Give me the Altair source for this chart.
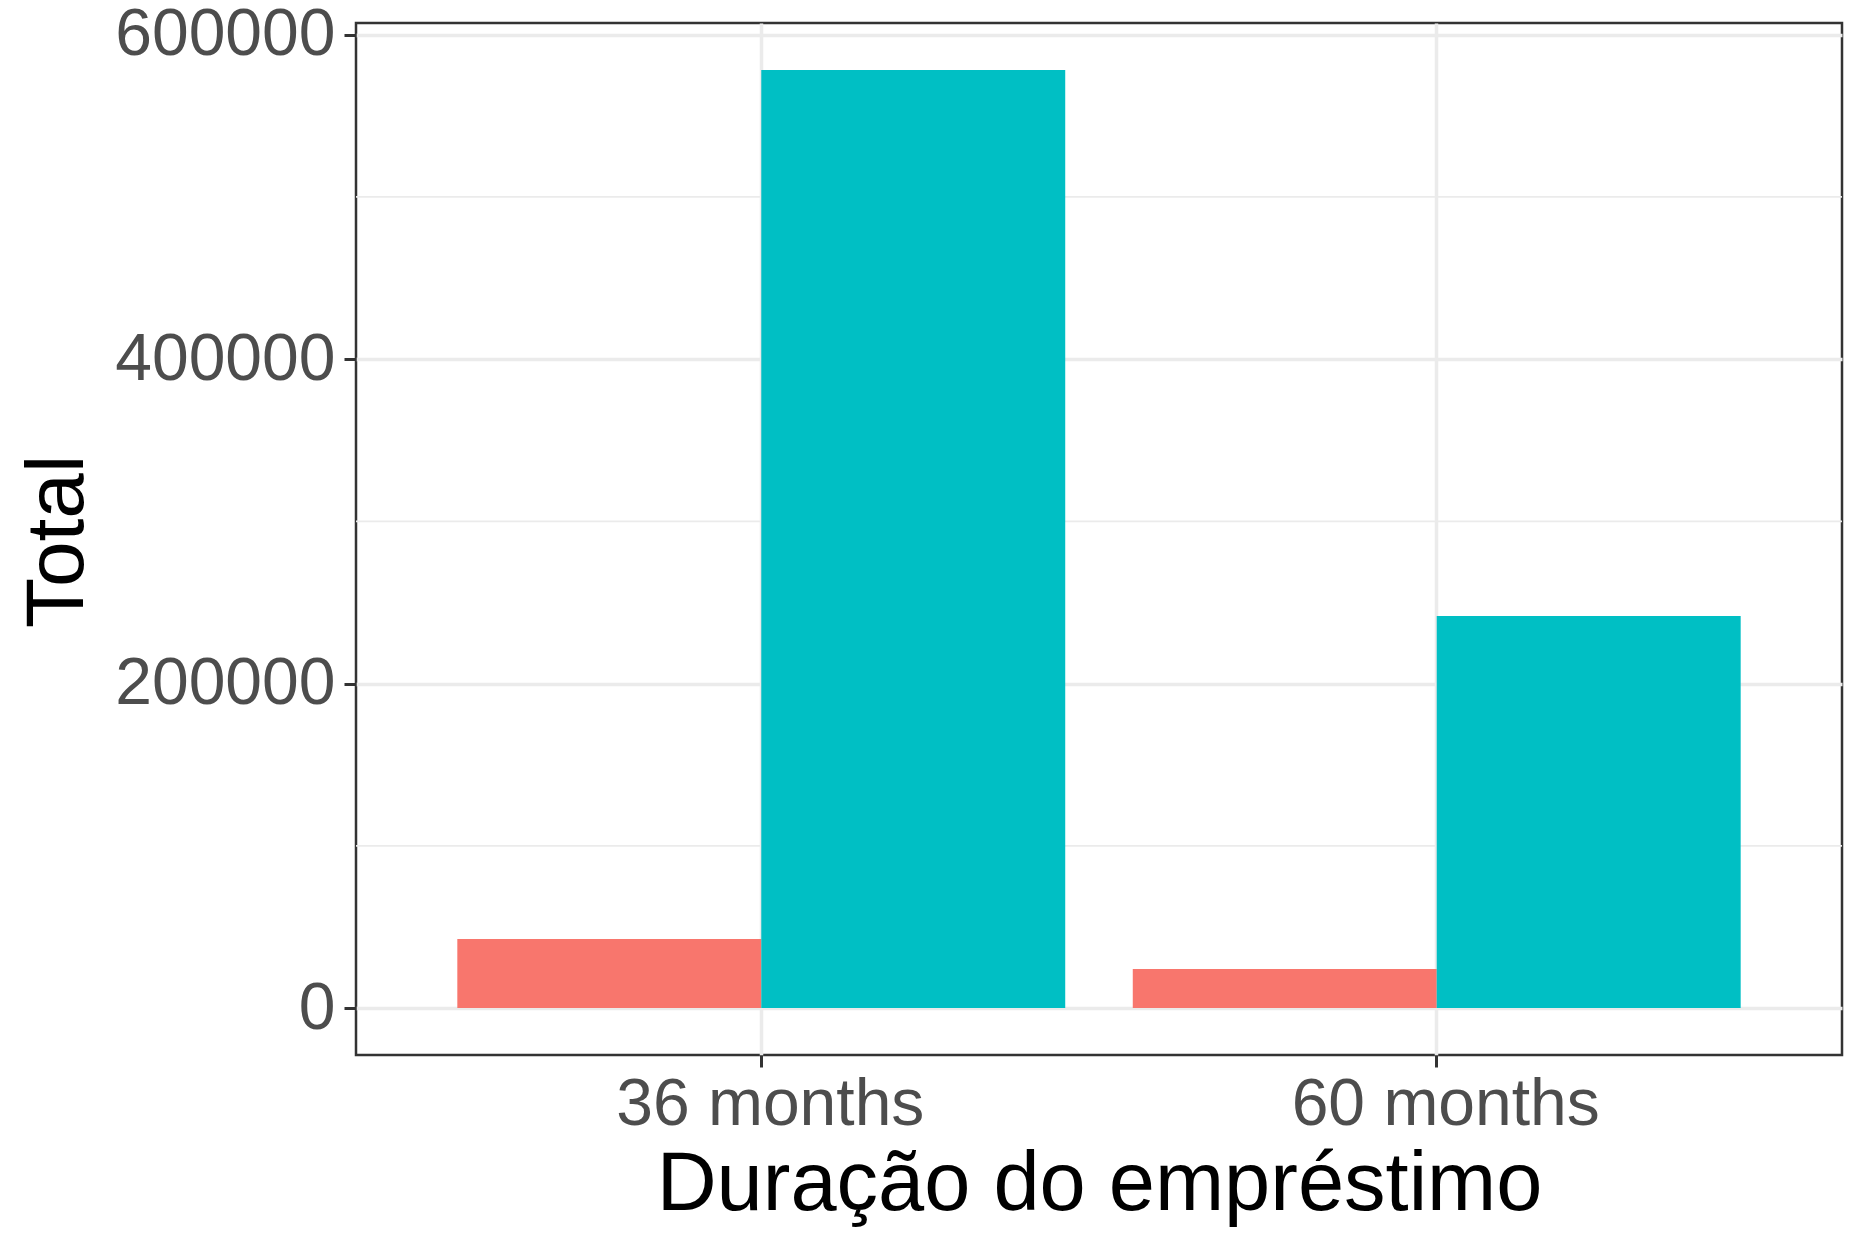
import altair as alt
import pandas as pd

terms = ["36 months", "36 months", "60 months", "60 months"]
status = ["Inadimplente", "Adimplente", "Inadimplente", "Adimplente"]
totals = [42610, 578270, 24140, 241670]
status_order = ["Inadimplente", "Adimplente"]
status_colors = ["#F8766D", "#00BFC4"]
major_ticks = [0, 200000, 400000, 600000]
minor_ticks = [100000, 300000, 500000]

df = pd.DataFrame({"term": terms, "status": status, "total": totals})
minor_df = pd.DataFrame({"v": minor_ticks})

ymax = max(totals)
ydomain = [-0.05 * ymax, 1.05 * ymax]

W, H = 1486, 1032

yscale = alt.Scale(domain=ydomain, nice=False, zero=False)

minor = alt.Chart(minor_df).mark_rule(color="#EBEBEB", strokeWidth=1.8).encode(
    y=alt.Y("v:Q", scale=yscale)
)

bars = alt.Chart(df).mark_bar().encode(
    x=alt.X(
        "term:N",
        title="Duração do empréstimo",
        scale=alt.Scale(paddingInner=0.1, paddingOuter=0.15),
        axis=alt.Axis(
            labelAngle=0,
            bandPosition=0.5,
            grid=True,
            gridColor="#EBEBEB",
            gridWidth=3.5,
            domain=False,
            tickColor="#333333",
            tickWidth=3,
            tickSize=12,
            labelFont="Liberation Sans",
            labelFontSize=66,
            labelColor="#4D4D4D",
            labelBaseline="alphabetic",
            labelPadding=57,
            labelLimit=0,
            labelOffset=9,
            titleFont="Liberation Sans",
            titleFontSize=83,
            titleFontWeight="normal",
            titleColor="#000000",
            titleBaseline="alphabetic",
            titleLimit=0,
            titleY=154,
        ),
    ),
    xOffset=alt.XOffset("status:N", sort=status_order,
                        scale=alt.Scale(paddingInner=0, paddingOuter=0)),
    y=alt.Y(
        "total:Q",
        title="Total",
        scale=yscale,
        axis=alt.Axis(
            values=major_ticks,
            format="d",
            grid=True,
            gridColor="#EBEBEB",
            gridWidth=3.5,
            domain=False,
            tickColor="#333333",
            tickWidth=3,
            tickSize=12,
            labelFont="Liberation Sans",
            labelFontSize=66,
            labelColor="#4D4D4D",
            labelPadding=9,
            labelBaseline="middle",
            labelLimit=0,
            titleFont="Liberation Sans",
            titleFontSize=82,
            titleFontWeight="normal",
            titleColor="#000000",
            titleBaseline="alphabetic",
            titleLimit=0,
            titleX=-274,
            titleY=518,
            titleAngle=270,
        ),
    ),
    color=alt.Color(
        "status:N",
        sort=status_order,
        scale=alt.Scale(domain=status_order, range=status_colors),
        legend=None,
    ),
)

chart = alt.layer(minor, bars).properties(
    width=W,
    height=H,
    autosize=alt.AutoSizeParams(type="none"),
    padding={"left": 356, "top": 23, "right": 24, "bottom": 196},
    background="#FFFFFF",
).configure_view(
    stroke="#333333",
    strokeWidth=2.5,
)

chart.save("out.html", embed_options={"renderer": "svg", "actions": False})
